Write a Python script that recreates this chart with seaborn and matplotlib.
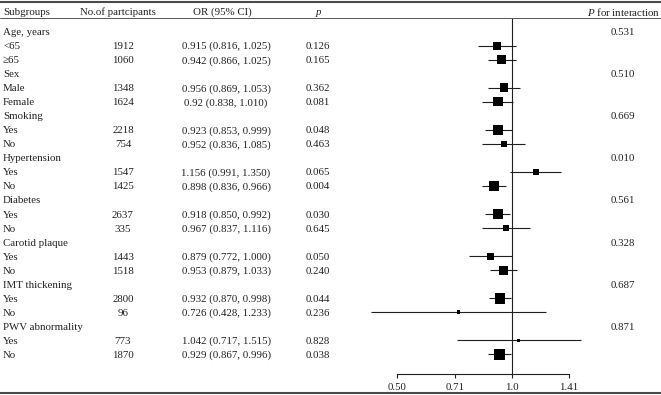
import matplotlib
matplotlib.use("Agg")
import matplotlib.pyplot as plt
import matplotlib.transforms as mtransforms
import numpy as np
import pandas as pd
import seaborn as sns

# subgroup headers and their interaction p values
groups = ["Age, years", "Sex", "Smoking", "Hypertension", "Diabetes",
          "Carotid plaque", "IMT thickening", "PWV abnormality"]
p_interaction = ["0.531", "0.510", "0.669", "0.010", "0.561", "0.328", "0.687", "0.871"]

# two levels per subgroup
levels = ["<65", "≥65", "Male", "Female", "Yes", "No", "Yes", "No",
          "Yes", "No", "Yes", "No", "Yes", "No", "Yes", "No"]
n_part = [1912, 1060, 1348, 1624, 2218, 754, 1547, 1425,
          2637, 335, 1443, 1518, 2800, 96, 773, 1870]
odds = [0.915, 0.942, 0.956, 0.92, 0.923, 0.952, 1.156, 0.898,
        0.918, 0.967, 0.879, 0.953, 0.932, 0.726, 1.042, 0.929]
ci_lo = [0.816, 0.866, 0.869, 0.838, 0.853, 0.836, 0.991, 0.836,
         0.850, 0.837, 0.772, 0.879, 0.870, 0.428, 0.717, 0.867]
ci_hi = [1.025, 1.025, 1.053, 1.010, 0.999, 1.085, 1.350, 0.966,
         0.992, 1.116, 1.000, 1.033, 0.998, 1.233, 1.515, 0.996]
or_text = ["0.915 (0.816, 1.025)", "0.942 (0.866, 1.025)", "0.956 (0.869, 1.053)",
           "0.92 (0.838, 1.010)", "0.923 (0.853, 0.999)", "0.952 (0.836, 1.085)",
           "1.156 (0.991, 1.350)", "0.898 (0.836, 0.966)", "0.918 (0.850, 0.992)",
           "0.967 (0.837, 1.116)", "0.879 (0.772, 1.000)", "0.953 (0.879, 1.033)",
           "0.932 (0.870, 0.998)", "0.726 (0.428, 1.233)", "1.042 (0.717, 1.515)",
           "0.929 (0.867, 0.996)"]
p_vals = ["0.126", "0.165", "0.362", "0.081", "0.048", "0.463", "0.065", "0.004",
          "0.030", "0.645", "0.050", "0.240", "0.044", "0.236", "0.828", "0.038"]
# square side in pixels
box_px = [8, 9, 8.5, 9.5, 10, 6, 5.7, 10.5, 10, 6, 7, 8.7, 10.5, 3.7, 3.7, 10.7]

xticks = [0.50, 0.71, 1.0, 1.41]
xtick_labels = ["0.50", "0.71", "1.0", "1.41"]

W, H = 661, 395
sns.set_style("white")
plt.rcParams["font.family"] = ["Liberation Serif", "DejaVu Serif"]
plt.rcParams["mathtext.fontset"] = "custom"
plt.rcParams["mathtext.it"] = "Liberation Serif:italic"
plt.rcParams["mathtext.rm"] = "Liberation Serif"
txt_color = "#231f20"
fs = 7.8

# row layout: header row then two level rows
row_y0, row_dy = 31.5, 14.04   # pixel centre of first row, row pitch
def r_of(py):
    return (py - row_y0) / row_dy

level_rows = []
group_rows = []
r = 0
for g in groups:
    group_rows.append(r)
    level_rows += [r + 1, r + 2]
    r += 3

df = pd.DataFrame({"row": level_rows, "OR": odds, "lo": ci_lo, "hi": ci_hi,
                   "s": [(0.72 * b) ** 2 for b in box_px]})

fig = plt.figure(figsize=(W / 100, H / 100), dpi=100)
ax = fig.add_axes([0, 0, 1, 1])
ax.set_xscale("log", base=2)
# x pixel = 511.7 + 115*log2(v)
ax.set_xlim(2 ** (-511.7 / 115), 2 ** ((W - 511.7) / 115))
ax.set_ylim(r_of(H), r_of(0))
ax.patch.set_alpha(0)

ax.hlines(df["row"], df["lo"], df["hi"], color=txt_color, lw=0.8, zorder=2)
sns.scatterplot(data=df, x="OR", y="row", marker="s", s=df["s"].values,
                color="black", edgecolor="none", linewidth=0, ax=ax, zorder=3,
                legend=False)

axis_r = r_of(373.5)
ax.vlines(1.0, r_of(18), axis_r, color=txt_color, lw=0.8, zorder=1)

for sp in ["top", "left", "right"]:
    ax.spines[sp].set_visible(False)
ax.spines["bottom"].set_position(("data", axis_r))
ax.spines["bottom"].set_bounds(0.5, 1.414)
ax.spines["bottom"].set_color(txt_color)
ax.spines["bottom"].set_linewidth(0.8)
ax.set_xticks(xticks)
ax.set_xticklabels(xtick_labels)
ax.minorticks_off()
ax.tick_params(axis="x", direction="out", length=3, width=0.8, colors=txt_color,
               labelsize=fs, pad=4, bottom=True)
ax.set_yticks([])
ax.set_xlabel("")
ax.set_ylabel("")
ax.grid(False)

# table lines
ax.axhline(r_of(1.5), color="#4a4a4a", lw=1.5)
ax.axhline(r_of(18), color="#555555", lw=0.7)
ax.axhline(r_of(393), color="#4a4a4a", lw=1.5)

tr = mtransforms.blended_transform_factory(fig.transFigure, ax.transData)
def put(px, row, s, ha="left", **kw):
    ax.text(px / W, row, s, ha=ha, va="center_baseline", transform=tr,
            fontsize=fs, color=txt_color, **kw)

hr = r_of(11.5)
put(3, hr, "Subgroups")
put(118, hr, "No.of partcipants", ha="center")
put(222, hr, "OR (95% CI)", ha="center")
put(318, hr, "p", ha="center", style="italic")
put(660, hr, "$\\it{P}$ for interaction", ha="right")

for g, rr, pint in zip(groups, group_rows, p_interaction):
    put(3, rr, g)
    put(623, rr, pint, ha="center")

for i, rr in enumerate(level_rows):
    put(3, rr, levels[i])
    put(123, rr, str(n_part[i]), ha="center")
    put(226, rr, or_text[i], ha="center")
    put(318, rr, p_vals[i], ha="center")

fig.savefig("out.png", dpi=100)
